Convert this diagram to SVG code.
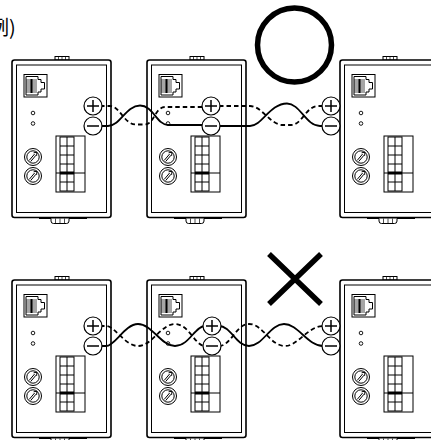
<svg xmlns="http://www.w3.org/2000/svg" width="431" height="440" viewBox="0 0 431 440">
<style>
.ln{fill:none;stroke:#000;stroke-width:1}
.wf{fill:#fff;stroke:#000;stroke-width:1}
.out{fill:#fff;stroke:#000;stroke-width:1.6}
.thin{stroke:#000;stroke-width:0.7}
.wire{fill:none;stroke:#000;stroke-width:1.8}
.dash{stroke-dasharray:4.5 3}
.term{fill:#fff;stroke:#000;stroke-width:1.2}
.sign{stroke:#000;stroke-width:1.5;fill:none}
.mark{fill:none;stroke:#000;stroke-width:5.5}
.txt{font-family:"Noto Sans CJK JP","Noto Sans",sans-serif;font-size:20px;fill:#000}
</style>
<defs>
<g id="rot">
  <circle class="ln" r="8.5"/>
  <circle class="ln" r="6.2"/>
  <path class="ln" d="M-3.8,3.4 L1.6,-3 M-2.4,4.6 L3,-1.8 M0.6,-4.2 L4,-4.8 L3.6,-1.2"/>
</g>
<g id="dev">
  <rect class="wf" x="43" y="-3.5" width="14" height="3.5"/>
  <path class="thin" d="M46.5,-3.5V0M50,-3.5V0M53.5,-3.5V0"/>
  <rect class="out" x="0" y="0" width="99" height="157.5" rx="2.5"/>
  <rect class="ln" x="4.5" y="5" width="90" height="147.5"/>
  <line x1="27" y1="158.3" x2="75" y2="158.3" stroke="#000" stroke-width="1.6"/>
  <path class="wf" d="M39,158.5 V161 Q39,163.5 41.5,163.5 H54.5 Q57,163.5 57,161 V158.5"/>
  <path class="thin" d="M43.5,158.5V163.5M48,158.5V163.5M52.5,158.5V163.5"/>
  <rect class="ln" x="12" y="14.5" width="23" height="22.5"/>
  <path class="ln" d="M14,16.5 H26 V19.5 H29 V22.5 H32.5 V29 H29 V32 H26 V35 H14 Z"/>
  <path class="thin" d="M14,20H25M14,22H25M14,24H25M14,26H25M14,28H25M14,30H25M14,32H25"/>
  <rect x="18.5" y="19" width="2" height="14" fill="#000"/>
  <circle cx="21" cy="53" r="1.8" fill="#fff" stroke="#000" stroke-width="0.9"/>
  <circle cx="21" cy="63.5" r="1.8" fill="#fff" stroke="#000" stroke-width="0.9"/>
  <use href="#rot" x="21" y="97"/>
  <use href="#rot" x="21" y="116"/>
  <rect class="ln" x="44" y="76" width="29" height="56"/>
  <rect class="ln" x="48" y="77" width="14" height="54"/>
  <path class="ln" d="M55,77V131M48,86H62M48,95H62M48,104H62M44,113H73M48,122H62"/>
  <rect x="48" y="111.5" width="14" height="3" fill="#000"/>
</g>
<g id="tp"><circle class="term" r="9"/><path class="sign" d="M-6,0H6M0,-6V6"/></g>
<g id="tm"><circle class="term" r="9"/><path class="sign" d="M-6,0H6"/></g>
</defs>
<rect width="431" height="440" fill="#fff"/>
<text class="txt" x="-11" y="35">例)</text>

<g id="dev-top-1"><use href="#dev" transform="translate(12,60)"/></g>
<g id="dev-top-2"><use href="#dev" transform="translate(147,60)"/></g>
<g id="dev-top-3"><use href="#dev" transform="translate(340,60)"/></g>
<g id="dev-bot-1"><use href="#dev" transform="translate(12,280)"/></g>
<g id="dev-bot-2"><use href="#dev" transform="translate(147,280)"/></g>
<g id="dev-bot-3"><use href="#dev" transform="translate(340,280)"/></g>

<g id="connectors">
  <path class="wire dash" d="M100,106 H110 C120,106 124,124.5 136,124.5 H145 C154,124.5 155,107 165,107 H203"/>
  <path class="wire" d="M100,126 H108 C120,126 126,105.5 140,105.5 C153,105.5 157,125 168,125 H203"/>
  <path class="wire dash" d="M219,106 H250 C262,106 270,125 283,125 H291 C302,125 306,106 318,106 H323"/>
  <path class="wire" d="M219,126 H250 C262,126 270,103.5 287,103.5 C300,103.5 306,126 320,126 H323"/>
  <path class="wire" d="M100,346 H106 C115,346 125,324 138,324 C152,324 161,346 175,346 C189,346 195,326 205,326"/>
  <path class="wire dash" d="M100,326 H106 C115,326 125,346 138,346 C152,346 161,324 175,324 C189,324 195,346 205,346"/>
  <path class="wire" d="M219,326 C231,326 236,346 249,346 C263,346 270,324 284,324 C298,324 308,346 323,346"/>
  <path class="wire dash" d="M219,346 C231,346 236,324 249,324 C263,324 270,346 285,346 C298,346 308,326 323,326"/>
</g>

<g id="term-top-1"><use href="#tp" x="93" y="106"/><use href="#tm" x="93" y="126"/></g>
<g id="term-top-2"><use href="#tp" x="211" y="106"/><use href="#tm" x="211" y="126"/></g>
<g id="term-top-3"><use href="#tp" x="331" y="106"/><use href="#tm" x="331" y="126"/></g>
<g id="term-bot-1"><use href="#tp" x="93" y="326"/><use href="#tm" x="93" y="346"/></g>
<g id="term-bot-2"><use href="#tp" x="212" y="326"/><use href="#tm" x="212" y="346"/></g>
<g id="term-bot-3"><use href="#tp" x="331" y="326"/><use href="#tm" x="331" y="346"/></g>

<g id="mark-ok"><circle class="mark" cx="294.5" cy="45" r="37"/></g>
<g id="mark-ng"><path class="mark" d="M269,254 L321,304 M321,254 L269,304" stroke-width="6"/></g>
</svg>
